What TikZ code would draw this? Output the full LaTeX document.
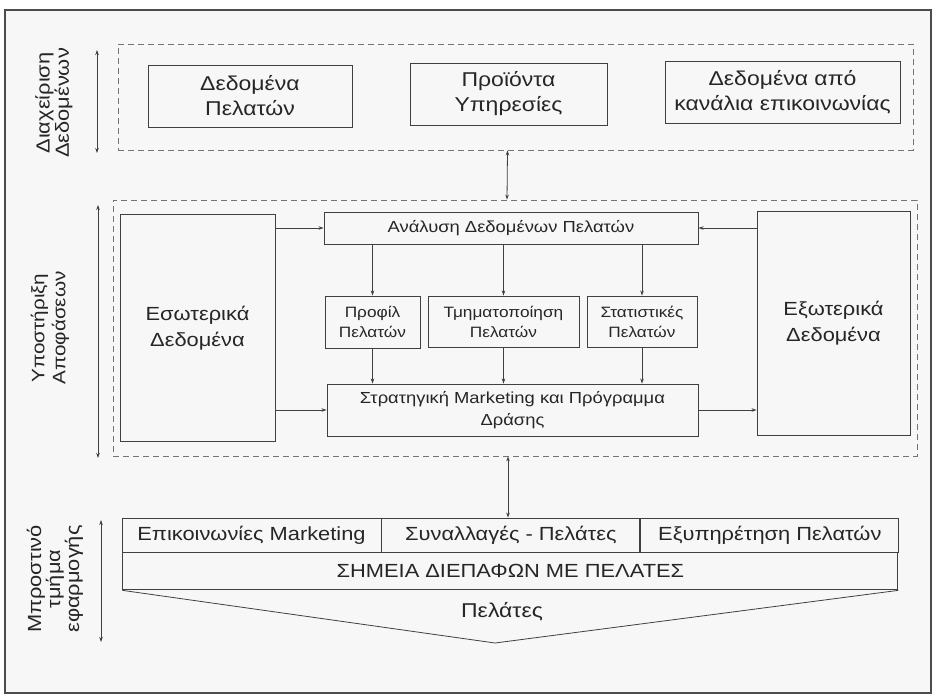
\documentclass[tikz,border=0pt]{standalone}
\usepackage{fontspec}
\setmainfont[FakeStretch=1.15]{Liberation Sans}
\usetikzlibrary{positioning,arrows.meta}

\begin{document}
\begin{tikzpicture}[x=1pt, y=-1pt, >={Stealth[length=5pt,width=3.5pt]},
    box/.style={draw=black!75, rectangle, align=center, inner sep=2pt, line width=0.9pt, text=black!85},
    zone/.style={draw=black!55, dash pattern=on 6pt off 4pt, rectangle, line width=0.8pt},
    conn/.style={draw=black!75, line width=0.8pt},
    lbl/.style={rotate=90, align=center, text=black!85}]

  \useasboundingbox (0,0) rectangle (936,699);
  \draw[black!70, line width=1.2pt, fill=black!3] (5,10) rectangle (931,693);

  % data management
  \node[zone, minimum width=795, minimum height=106] (dm) at (515.5,97) {};
  \node[box, minimum width=204, minimum height=62, font=\fontsize{20}{25}\selectfont] (cust) at (250,96) {Δεδομένα\\Πελατών};
  \node[box, minimum width=197, minimum height=62, font=\fontsize{20}{25}\selectfont] (prod) at (508.5,94) {Προϊόντα\\Υπηρεσίες};
  \node[box, minimum width=235, minimum height=62, font=\fontsize{20}{25}\selectfont] (chan) at (782.5,92) {Δεδομένα από\\κανάλια επικοινωνίας};

  % decision support
  \node[zone, minimum width=804, minimum height=256] (ds) at (515,328) {};
  \node[box, minimum width=155, minimum height=227, font=\fontsize{19}{26}\selectfont] (inner) at (197.5,328) {Εσωτερικά\\Δεδομένα};
  \node[box, minimum width=153, minimum height=224, font=\fontsize{19}{26}\selectfont] (outer) at (833.5,323) {Εξωτερικά\\Δεδομένα};
  \node[box, minimum width=374, minimum height=32, font=\fontsize{16}{21}\selectfont] (anal) at (511,228) {Ανάλυση Δεδομένων Πελατών};
  \node[box, minimum width=95, minimum height=52, font=\fontsize{15}{20}\selectfont] (prof) at (372.5,322) {Προφίλ\\Πελατών};
  \node[box, minimum width=151, minimum height=51, font=\fontsize{15}{20}\selectfont] (segm) at (503.5,321.5) {Τμηματοποίηση\\Πελατών};
  \node[box, minimum width=110, minimum height=51, font=\fontsize{15}{20}\selectfont] (stat) at (642,321.5) {Στατιστικές\\Πελατών};
  \node[box, minimum width=371, minimum height=52, font=\fontsize{16}{22}\selectfont] (strat) at (512.5,410) {Στρατηγική Marketing και Πρόγραμμα\\Δράσης};

  % front end
  \node[box, minimum width=259, minimum height=34, font=\fontsize{19}{22}\selectfont] (mkt) at (251.5,535) {Επικοινωνίες Marketing};
  \node[box, minimum width=258, minimum height=34, font=\fontsize{19}{22}\selectfont, right=0pt of mkt] (trans) {Συναλλαγές - Πελάτες};
  \node[box, minimum width=258, minimum height=34, font=\fontsize{19}{22}\selectfont, right=0pt of trans] (serv) {Εξυπηρέτηση Πελατών};
  \node[box, minimum width=775, minimum height=37, font=\fontsize{19}{22}\selectfont, below=0pt of trans.south west, anchor=north west, xshift=-259] (touch) {ΣΗΜΕΙΑ ΔΙΕΠΑΦΩΝ ΜΕ ΠΕΛΑΤΕΣ};
  \coordinate (apex) at (495,643);
  \node[font=\fontsize{20}{22}\selectfont, text=black!85] (cli) at (502,612) {Πελάτες};
  \draw[conn] (touch.south west) -- (apex) -- (touch.south east);

  % side labels
  \node[lbl, font=\fontsize{19}{17}\selectfont] (lblA) at (54,103) {Διαχείριση\\Δεδομένων};
  \node[lbl, font=\fontsize{18}{21}\selectfont] (lblB) at (50,328) {Υποστήριξη\\Αποφάσεων};
  \node[lbl, font=\fontsize{19}{19}\selectfont] (lblC) at (55,579) {Μπροστινό\\τμήμα\\εφαρμογής};
  \coordinate (aT) at (97,50);   \coordinate (aB) at (97,153);
  \coordinate (bT) at (98,205);  \coordinate (bB) at (98,458);
  \coordinate (cT) at (101,520); \coordinate (cB) at (101,642);
  \draw[conn, <->] (aT) -- (aB);
  \draw[conn, <->] (bT) -- (bB);
  \draw[conn, <->] (cT) -- (cB);

  % connectors
  \draw[conn, <->] ([xshift=-8]dm.south) -- ([xshift=-8]ds.north);
  \draw[conn, <->] ([xshift=-7]ds.south) -- ([xshift=-7]ds.south |- trans.north);
  \draw[conn, ->] (inner.east |- anal.west) -- (anal.west);
  \draw[conn, ->] (outer.west |- anal.east) -- (anal.east);
  \draw[conn, ->] (inner.east |- strat.west) -- (strat.west);
  \draw[conn, ->] (strat.east) -- (outer.west |- strat.east);
  \foreach \n in {prof,segm,stat} {
    \draw[conn, ->] (anal.south -| \n.north) -- (\n.north);
    \draw[conn, ->] (\n.south) -- (\n.south |- strat.north);
  }
\end{tikzpicture}
\end{document}
